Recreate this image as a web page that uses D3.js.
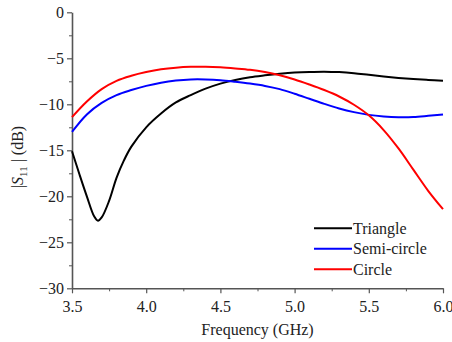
<!DOCTYPE html>
<html>
<head>
<meta charset="utf-8">
<script src="https://cdn.jsdelivr.net/npm/d3@7"></script>
<style>
body{margin:0;background:#fff;}
</style>
</head>
<body>
<script>
// frequency grid (GHz)
var freqs = [3.5,3.6,3.7,3.8,3.9,4.0,4.1,4.2,4.3,4.4,4.5,4.6,4.7,4.8,4.9,5.0,5.1,5.2,5.3,5.4,5.5,5.6,5.7,5.8,5.9,6.0];
var freqsTri = [3.5,3.55,3.6,3.65,3.675,3.7,3.75,3.8,3.85,3.9,4.0,4.1,4.2,4.3,4.4,4.5,4.6,4.7,4.8,4.9,5.0,5.1,5.2,5.3,5.4,5.5,5.6,5.7,5.8,5.9,6.0];
var triangle = [-15.1,-17.6,-20.0,-22.2,-22.65,-22.3,-20.5,-18.0,-16.1,-14.6,-12.5,-11.0,-9.8,-9.0,-8.3,-7.75,-7.35,-7.05,-6.85,-6.68,-6.55,-6.48,-6.45,-6.5,-6.62,-6.8,-6.98,-7.13,-7.25,-7.35,-7.43];
var semicircle = [-13.0,-11.1,-9.85,-9.0,-8.45,-8.0,-7.65,-7.42,-7.3,-7.3,-7.38,-7.55,-7.75,-8.0,-8.35,-8.85,-9.4,-9.95,-10.45,-10.85,-11.15,-11.32,-11.4,-11.38,-11.25,-11.1];
var circle = [-11.4,-9.7,-8.35,-7.45,-6.9,-6.5,-6.2,-6.02,-5.93,-5.92,-5.98,-6.1,-6.25,-6.5,-6.85,-7.3,-7.85,-8.45,-9.15,-10.05,-11.2,-12.8,-14.8,-17.1,-19.4,-21.4];
var xTicks = [3.5,4.0,4.5,5.0,5.5,6.0];
var yTicks = [0,-5,-10,-15,-20,-25,-30];
var names = ["Triangle","Semi-circle","Circle"];
var colors = ["#000000","#0000ff","#ff0000"];

var font = "Liberation Serif";
var margin = {top: 12.3, right: 9, bottom: 53.7, left: 72},
    width = 452 - margin.left - margin.right,
    height = 342 - margin.top - margin.bottom;

var svg = d3.select("body").append("svg")
    .attr("width", 452)
    .attr("height", 342)
    .attr("font-family", font)
  .append("g")
    .attr("transform", "translate(" + margin.left + "," + margin.top + ")");

var x = d3.scaleLinear().domain([3.5,6.0]).range([0,width]);
var y = d3.scaleLinear().domain([-30,0]).range([height,0]);

// minor ticks
svg.append("g")
    .attr("transform", "translate(0," + height + ")")
    .call(d3.axisBottom(x).tickValues(d3.range(3.75,6.0,0.5)).tickSize(3).tickFormat(""))
    .call(function(g){ g.select(".domain").remove(); g.selectAll("line").attr("stroke","#555"); });
svg.append("g")
    .call(d3.axisLeft(y).tickValues(d3.range(-27.5,0,5)).tickSize(3).tickFormat(""))
    .call(function(g){ g.select(".domain").remove(); g.selectAll("line").attr("stroke","#555"); });

var xAxis = svg.append("g")
    .attr("transform", "translate(0," + height + ")")
    .call(d3.axisBottom(x).tickValues(xTicks).tickSize(5).tickSizeOuter(0).tickFormat(d3.format(".1f")));
var yAxis = svg.append("g")
    .call(d3.axisLeft(y).tickValues(yTicks).tickSize(5).tickSizeOuter(0).tickFormat(d3.format("d")));

[xAxis, yAxis].forEach(function(g){
  g.attr("font-family", font).attr("font-size", 16);
  g.select(".domain").attr("stroke","#555").attr("stroke-width",1.6);
  g.selectAll(".tick line").attr("stroke","#555").attr("stroke-width",1.2);
  g.selectAll(".tick text").attr("fill","#222");
});
xAxis.selectAll(".tick text").attr("dy","1.0em");
yAxis.selectAll(".tick text").attr("x",-8);

var line = d3.line()
    .x(function(d){ return x(d[0]); })
    .y(function(d){ return y(d[1]); })
    .curve(d3.curveCatmullRom.alpha(0.5));

var series = [d3.zip(freqsTri, triangle), d3.zip(freqs, semicircle), d3.zip(freqs, circle)];
series.forEach(function(s,i){
  svg.append("path")
      .datum(s)
      .attr("fill","none")
      .attr("stroke",colors[i])
      .attr("stroke-width",2)
      .attr("d",line);
});

// axis labels
svg.append("text")
    .attr("x", width/2)
    .attr("y", height + 47)
    .attr("text-anchor","middle")
    .attr("font-family", font)
    .attr("font-size","16px")
    .attr("fill","#222")
    .text("Frequency (GHz)");

var yl = svg.append("text")
    .attr("transform","rotate(-90)")
    .attr("x", -(157 - margin.top))
    .attr("y", -49)
    .attr("text-anchor","middle")
    .attr("font-family", font)
    .attr("font-size","16px")
    .attr("fill","#222");
yl.append("tspan").text("|");
yl.append("tspan").attr("font-style","italic").text("S");
yl.append("tspan").attr("dy","4").attr("font-size","11px").text("11");
yl.append("tspan").attr("dy","-4").text(" | (dB)");

// legend
var legend = svg.append("g").attr("transform","translate(242,216)");
names.forEach(function(n,i){
  var row = legend.append("g").attr("transform","translate(0," + (i*20.5) + ")");
  row.append("line").attr("x1",0).attr("x2",38).attr("y1",0).attr("y2",0)
     .attr("stroke",colors[i]).attr("stroke-width",2);
  row.append("text").attr("x",39).attr("y",0).attr("dy","0.35em")
     .attr("font-family", font).attr("font-size","16px").attr("fill","#222").text(n);
});
</script>
</body>
</html>
